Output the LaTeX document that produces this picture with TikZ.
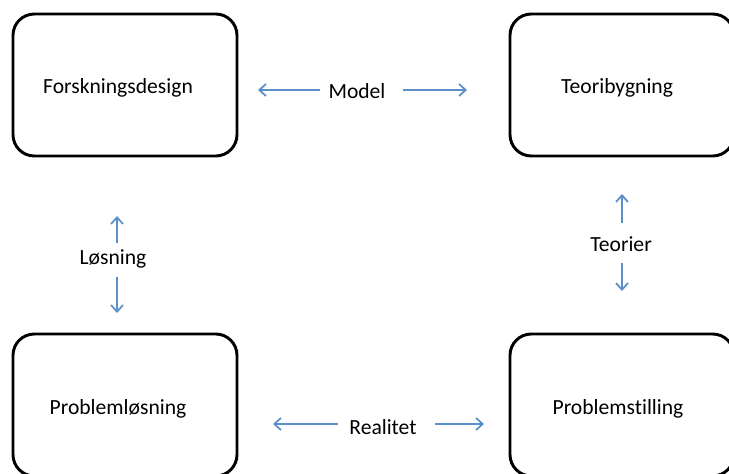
\documentclass[tikz,border=0pt]{standalone}
\usepackage{fontspec}
\setmainfont[Ligatures={NoCommon}]{Carlito}
\usetikzlibrary{arrows.meta}
\definecolor{arrblue}{RGB}{91,143,201}
\tikzset{
  box/.style={draw=black, line width=2.2pt, rounded corners=16pt, minimum width=224*0.75pt, minimum height=142*0.75pt, inner sep=0pt},
  lbl/.style={inner sep=0pt, font=\fontsize{16.2pt}{19pt}\selectfont},
  arr/.style={draw=arrblue, line width=1.5pt, -{Straight Barb[length=5pt,width=9pt,line width=1.3pt]}}
}
\begin{document}
\begin{tikzpicture}[x=0.75pt,y=-0.75pt]
\useasboundingbox (0,0) rectangle (729,474);
\clip (0,0) rectangle (729,474);
\node[box] (fd) at (125,85) {};
\node[lbl] (fdt) at (118,88) {Forskningsdesign};
\node[box] (tb) at (622,85) {};
\node[lbl] (tbt) at (617,88) {Teoribygning};
\node[box] (pl) at (125,405) {};
\node[lbl] (plt) at (118,409) {Problemløsning};
\node[box] (ps) at (622,405) {};
\node[lbl] (pst) at (618,409) {Problemstilling};
% Model
\node[lbl] (model) at (357,91) {Model};
\coordinate (m1) at (320,90); \coordinate (m2) at (258,90);
\coordinate (m3) at (403,90); \coordinate (m4) at (467,90);
\draw[arr] (m1) -- (m2);
\draw[arr] (m3) -- (m4);
% Losning
\node[lbl] (los) at (113,259) {Løsning};
\coordinate (l1) at (117,243); \coordinate (l2) at (117,216);
\coordinate (l3) at (117,277); \coordinate (l4) at (117,313);
\draw[arr] (l1) -- (l2);
\draw[arr] (l3) -- (l4);
% Teorier
\node[lbl] (teo) at (621,244) {Teorier};
\coordinate (t1) at (622,223); \coordinate (t2) at (622,194);
\coordinate (t3) at (622,263); \coordinate (t4) at (622,291);
\draw[arr] (t1) -- (t2);
\draw[arr] (t3) -- (t4);
% Realitet
\node[lbl] (real) at (383,427) {Realitet};
\coordinate (r1) at (338,424); \coordinate (r2) at (273,424);
\coordinate (r3) at (435,424); \coordinate (r4) at (484,424);
\draw[arr, line width=1pt] (r1) -- (r2);
\draw[arr, line width=1pt] (r3) -- (r4);
\end{tikzpicture}
\end{document}
